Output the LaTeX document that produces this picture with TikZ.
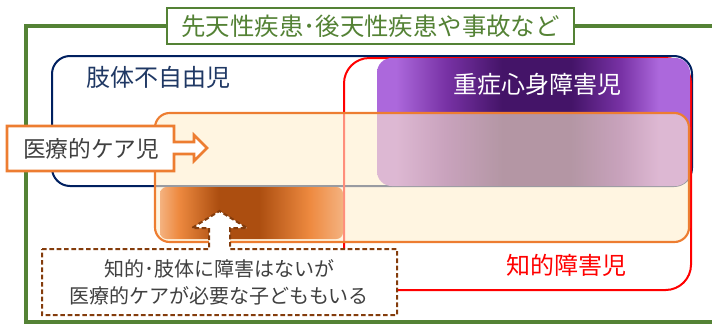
\documentclass[tikz,border=0pt]{standalone}
\usepackage{fontspec}
\setmainfont{Noto Sans CJK JP}
\definecolor{gframe}{RGB}{84,130,53}
\definecolor{navy}{RGB}{0,32,96}
\definecolor{navytext}{RGB}{31,56,100}
\definecolor{redline}{RGB}{255,0,0}
\definecolor{orangeline}{RGB}{237,125,49}
\definecolor{cream}{RGB}{255,238,205}
\definecolor{purpL}{RGB}{172,104,220}
\definecolor{purpM}{RGB}{120,50,165}
\definecolor{purpD}{RGB}{68,20,104}
\definecolor{orgE}{RGB}{244,178,128}
\definecolor{orgL}{RGB}{238,138,64}
\definecolor{orgD}{RGB}{172,78,16}
\definecolor{brownd}{RGB}{132,60,12}
\definecolor{txtgray}{RGB}{64,64,64}
\pgfdeclarehorizontalshading{purpshade}{100bp}{color(0bp)=(purpL); color(28bp)=(purpL); color(36bp)=(purpM); color(45bp)=(purpD); color(56bp)=(purpD); color(64bp)=(purpM); color(70bp)=(purpL); color(100bp)=(purpL)}
\pgfdeclarehorizontalshading{orgshade}{100bp}{color(0bp)=(orgE); color(25bp)=(orgE); color(30bp)=(orgL); color(41bp)=(orgD); color(52bp)=(orgD); color(66bp)=(orgL); color(75bp)=(orgE); color(100bp)=(orgE)}
\tikzset{
  frameline/.style={draw=gframe, line width=2.4pt},
  titlebox/.style={draw=gframe, fill=white, line width=1.3pt, minimum width=305pt, minimum height=27pt, inner sep=0pt, text=gframe, font=\fontsize{18.3pt}{20pt}\selectfont},
  bluebox/.style={draw=navy, line width=1.5pt, rounded corners=13.5pt},
  redbox/.style={draw=redline, line width=1.5pt, rounded corners=19pt},
  purpbox/.style={shading=purpshade, rounded corners=11pt},
  creambox/.style={fill=cream, fill opacity=0.6, draw=orangeline, draw opacity=1, line width=1.6pt, rounded corners=11pt},
  orgbox/.style={shading=orgshade, rounded corners=5pt},
  calloutA/.style={fill=white, draw=orangeline, line width=1.9pt},
  calloutB/.style={fill=white, draw=brownd, line width=1.5pt, dash pattern=on 3.5pt off 2pt},
  lbl/.style={inner sep=0pt, font=\fontsize{18pt}{20pt}\selectfont},
  smalltxt/.style={inner sep=0pt, align=center, text=txtgray, font=\fontsize{15pt}{20.25pt}\selectfont}
}
\begin{document}
\begin{tikzpicture}[x=0.75pt,y=-0.75pt]
\useasboundingbox (0,0) rectangle (712,325);
% outer green frame
\begin{scope}
\clip (0,0) rectangle (712,325);
\draw[frameline] (26,26) rectangle (740,322);
\end{scope}
\node[titlebox] (title) at (370.5,26) {先天性疾患･後天性疾患や事故など};
% blue box
\draw[bluebox] (52,56) rectangle (692,186);
% red box
\draw[redbox] (344,58) rectangle (691,290);
% purple box
\shade[purpbox] (377,58) rectangle (690,186);
\node[lbl, text=white] (jushin) at (537,84) {重症心身障害児};
% cream box
\draw[creambox] (155,113) rectangle (689,242);
% small orange gradient box
\shade[orgbox] (160,187) rectangle (343,239);
% labels
\node[lbl, text=navytext, anchor=west] (shitai) at (86,77) {肢体不自由児};
\node[lbl, text=redline, anchor=east] (chiteki) at (627,265) {知的障害児};
% medical care callout
\draw[calloutA] (7,126) -- (174,126) -- (174,142) -- (194,142) -- (194,135) -- (207,148) -- (194,161) -- (194,154) -- (174,154) -- (174,171) -- (7,171) -- cycle;
\node[lbl, text=txtgray, font=\fontsize{17pt}{20pt}\selectfont] (iryo) at (91,149) {医療的ケア児};
% dashed up-arrow callout
\draw[calloutB] (42,249) -- (209,249) -- (209,228) -- (192,228) -- (219.5,211) -- (247,228) -- (230,228) -- (230,249) -- (397,249) -- (397,315) -- (42,315) -- cycle;
\node[smalltxt] (note) at (219,282) {知的･肢体に障害はないが\\医療的ケアが必要な子どももいる};
\end{tikzpicture}
\end{document}
